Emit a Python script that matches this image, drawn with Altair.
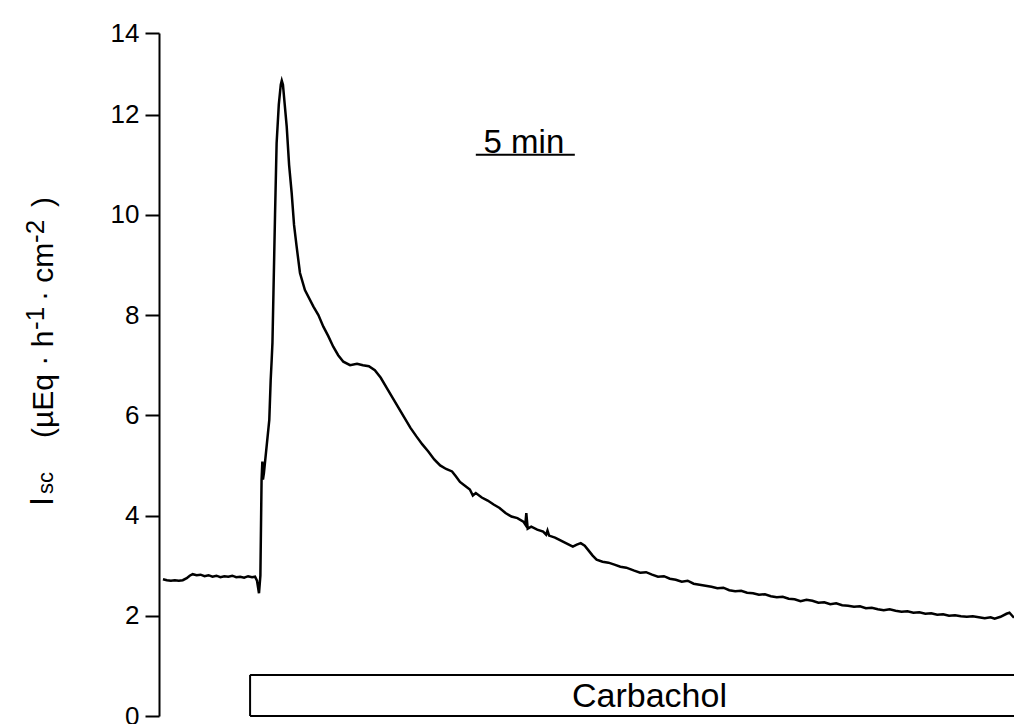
import altair as alt
import pandas as pd

# Short-circuit current trace: time (min) and Isc (µEq · h⁻¹ · cm⁻²)
time_min = [
    0.2, 0.4, 0.6, 0.8, 1.0, 1.2, 1.4, 1.55, 1.7, 1.9, 2.1, 2.3, 2.5, 2.7, 2.9,
    3.1, 3.3, 3.5, 3.7, 3.9, 4.1, 4.3, 4.5, 4.7, 4.85, 4.95, 5.05, 5.12, 5.18,
    5.22, 5.25, 5.3, 5.57, 5.64, 5.69, 5.73, 5.78, 5.86, 5.94, 6.05, 6.15, 6.2,
    6.26, 6.35, 6.45, 6.57, 6.7, 6.82, 6.95, 7.12, 7.37, 7.8, 8.05, 8.3, 8.55,
    8.8, 9.05, 9.31, 9.65, 10.0, 10.3, 10.6, 10.9, 11.2, 11.5, 11.8, 12.1, 12.4,
    12.7, 13.0, 13.3, 13.6, 13.9, 14.2, 14.5, 14.8, 15.0, 15.2, 15.5, 15.7,
    15.85, 16.0, 16.3, 16.6, 16.9, 17.2, 17.5, 17.8, 18.1, 18.4, 18.5, 18.55,
    18.62, 18.8, 19.1, 19.4, 19.55, 19.62, 19.7, 20.0, 20.3, 20.6, 20.9, 21.1,
    21.3, 21.5, 21.7, 21.9, 22.1, 22.4, 22.7, 23.0, 23.3, 23.6, 24.0, 24.3,
    24.6, 24.9, 25.2, 25.5, 25.8, 26.1, 26.4, 26.7, 27.0, 27.3, 27.6, 27.9,
    28.2, 28.5, 28.8, 29.1, 29.4, 29.7, 30.0, 30.3, 30.6, 30.9, 31.2, 31.5,
    31.8, 32.1, 32.4, 32.7, 33.0, 33.3, 33.6, 33.9, 34.2, 34.5, 34.8, 35.1,
    35.4, 35.7, 36.0, 36.3, 36.6, 36.9, 37.2, 37.5, 37.8, 38.1, 38.4, 38.7,
    39.0, 39.3, 39.6, 39.9, 40.2, 40.5, 40.8, 41.1, 41.4, 41.7, 42.0, 42.2,
    42.5, 42.8, 42.95, 43.18,
]
isc = [
    2.73, 2.71, 2.70, 2.71, 2.70, 2.71, 2.75, 2.80, 2.83, 2.81, 2.82, 2.79, 2.81,
    2.78, 2.80, 2.77, 2.79, 2.78, 2.80, 2.77, 2.78, 2.76, 2.79, 2.77, 2.78, 2.70,
    2.45, 2.80, 4.71, 5.08, 4.72, 4.85, 5.91, 6.70, 7.10, 7.45, 8.44, 10.0,
    11.43, 12.2, 12.6, 12.68, 12.6, 12.2, 11.76, 11.0, 10.44, 9.80, 9.37, 8.84,
    8.50, 8.17, 8.00, 7.77, 7.58, 7.37, 7.20, 7.07, 7.00, 7.03, 7.00, 6.98,
    6.90, 6.75, 6.55, 6.35, 6.15, 5.95, 5.75, 5.58, 5.42, 5.28, 5.12, 5.00,
    4.93, 4.88, 4.78, 4.67, 4.58, 4.52, 4.40, 4.45, 4.36, 4.30, 4.22, 4.15,
    4.05, 3.98, 3.95, 3.88, 3.82, 4.05, 3.74, 3.78, 3.72, 3.68, 3.62, 3.70,
    3.60, 3.56, 3.50, 3.44, 3.38, 3.42, 3.45, 3.40, 3.30, 3.20, 3.12, 3.08,
    3.06, 3.02, 2.98, 2.96, 2.90, 2.86, 2.87, 2.82, 2.78, 2.79, 2.74, 2.72,
    2.68, 2.70, 2.64, 2.62, 2.60, 2.58, 2.55, 2.56, 2.51, 2.49, 2.50, 2.46,
    2.45, 2.42, 2.43, 2.39, 2.37, 2.38, 2.34, 2.33, 2.29, 2.32, 2.30, 2.26,
    2.27, 2.23, 2.25, 2.21, 2.20, 2.18, 2.19, 2.15, 2.16, 2.13, 2.11, 2.13,
    2.10, 2.08, 2.09, 2.06, 2.07, 2.04, 2.05, 2.02, 2.03, 2.00, 2.01, 1.99,
    1.98, 1.99, 1.97, 1.95, 1.97, 1.94, 1.98, 2.04, 2.06, 1.96,
]

# Carbachol application bar and the 5-minute time scale bar
carbachol_start = 4.6
carbachol_bar_top = 0.82
scale_bar_start, scale_bar_end, scale_bar_level = 16.0, 21.0, 11.2

y_tick_values = [0, 2, 4, 6, 8, 10, 12, 13.63]

FONT = "Liberation Sans"
X_MAX = 43.18
x_scale = alt.Scale(domain=[0, X_MAX], nice=False, zero=False)
y_scale = alt.Scale(domain=[0, 13.63], nice=False)

trace = pd.DataFrame({"t": time_min, "isc": isc})

line = alt.Chart(trace).mark_line(color="black", strokeWidth=2.5).encode(
    x=alt.X("t:Q", scale=x_scale, axis=None),
    y=alt.Y(
        "isc:Q",
        scale=y_scale,
        axis=alt.Axis(
            values=y_tick_values,
            labelExpr="datum.value > 13 ? '14' : datum.label",
            title=None,
            grid=False,
            domainColor="black",
            domainWidth=2,
            tickColor="black",
            tickWidth=2,
            tickSize=14,
            labelFont=FONT,
            labelFontSize=26,
            labelColor="black",
            labelPadding=6,
        ),
    ),
)

bar_df = pd.DataFrame({
    "x": [carbachol_start, carbachol_start, carbachol_start],
    "x2": [X_MAX, X_MAX, carbachol_start],
    "y": [carbachol_bar_top, 0, 0],
    "y2": [carbachol_bar_top, 0, carbachol_bar_top],
})
box = alt.Chart(bar_df).mark_rule(color="black", strokeWidth=2).encode(
    x=alt.X("x:Q", scale=x_scale), x2="x2:Q",
    y=alt.Y("y:Q", scale=y_scale), y2="y2:Q",
)

carb_label = alt.Chart(pd.DataFrame({"t": [24.77], "v": [0.18], "s": ["Carbachol"]})).mark_text(
    font=FONT, fontSize=34, color="black", align="center", baseline="alphabetic"
).encode(x=alt.X("t:Q", scale=x_scale), y=alt.Y("v:Q", scale=y_scale), text="s:N")

scale_df = pd.DataFrame({"x": [scale_bar_start], "x2": [scale_bar_end], "y": [scale_bar_level]})
scale_bar = alt.Chart(scale_df).mark_rule(color="black", strokeWidth=2).encode(
    x=alt.X("x:Q", scale=x_scale), x2="x2:Q", y=alt.Y("y:Q", scale=y_scale)
)
scale_label = alt.Chart(pd.DataFrame({"t": [18.43], "v": [11.24], "s": ["5 min"]})).mark_text(
    font=FONT, fontSize=33, color="black", align="center", baseline="alphabetic"
).encode(x=alt.X("t:Q", scale=x_scale), y=alt.Y("v:Q", scale=y_scale), text="s:N")


def title_piece(txt, px, py, size):
    return alt.Chart(pd.DataFrame({"s": [txt]})).mark_text(
        angle=270, align="left", baseline="alphabetic",
        font=FONT, fontSize=size, color="black",
    ).encode(text="s:N", x=alt.value(px), y=alt.value(py))


# Rotated y-axis title with subscript and superscripts
y_title = [
    title_piece("I", -106, 473, 33),
    title_piece("sc", -106, 461, 22),
    title_piece("(µEq · h", -106, 405, 30),
    title_piece("-1", -115, 297, 26),
    title_piece("· cm", -106, 268, 30),
    title_piece("-2", -115, 210, 26),
    title_piece(")", -106, 174, 30),
]

chart = alt.layer(line, box, carb_label, scale_bar, scale_label, *y_title).properties(
    width=855,
    height=683,
    autosize=alt.AutoSizeParams(type="none"),
    padding={"left": 159, "top": 33, "right": 0, "bottom": 8},
).configure_view(stroke=None)

chart.save("out.html", embed_options={"renderer": "svg", "actions": False})
